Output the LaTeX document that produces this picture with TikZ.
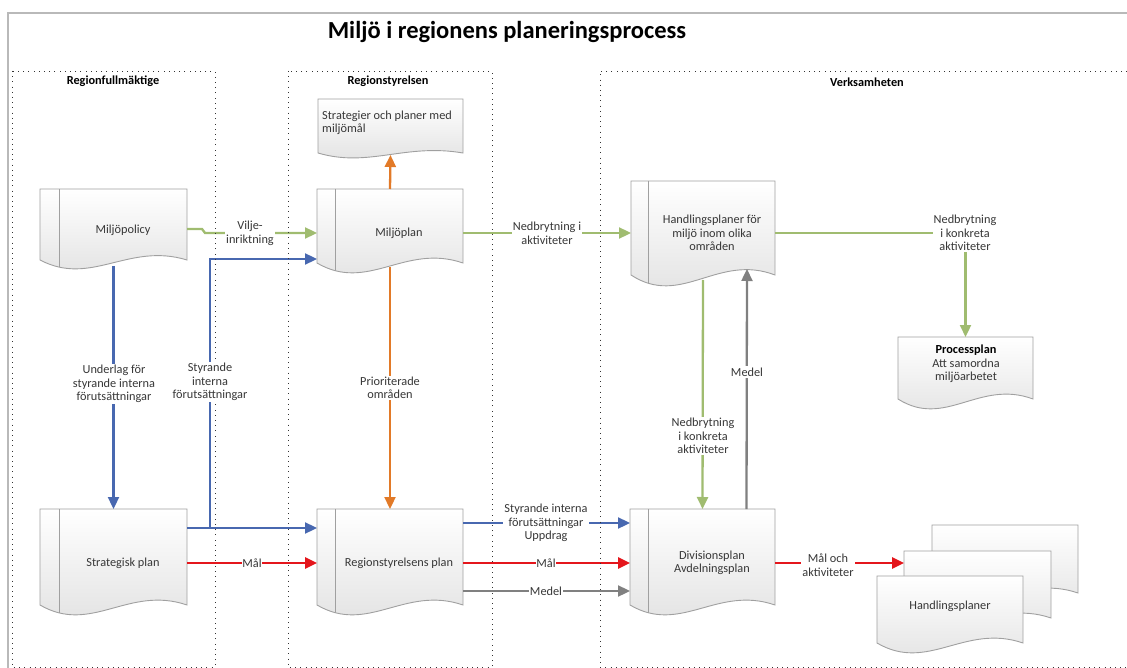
\documentclass[tikz,border=0pt]{standalone}
\usepackage{fontspec}
\setmainfont{Carlito}
\usetikzlibrary{arrows.meta}
\definecolor{grn}{RGB}{160,188,112}
\definecolor{blu}{RGB}{72,104,176}
\definecolor{org}{RGB}{226,122,40}
\definecolor{rd}{RGB}{228,22,28}
\definecolor{gry}{RGB}{128,128,128}
\definecolor{txt}{RGB}{55,55,55}
\definecolor{docedge}{RGB}{160,160,160}
\definecolor{docbot}{RGB}{224,224,224}
\definecolor{framec}{RGB}{185,185,185}
\tikzset{
  lane/.style={draw=black!80, line width=0.9pt, dash pattern=on 0.9pt off 4.3pt},
  conn/.style={line width=2.3pt, -{Triangle[length=12pt,width=11pt]}},
  lbl/.style={fill=white, inner sep=1.2pt, align=center, font=\fontsize{12.3}{13.5}\selectfont, text=txt},
  boxtxt/.style={align=center, inner sep=0pt, font=\fontsize{12.3}{13.5}\selectfont, text=txt},
  docrect/.style={inner sep=0pt, outer sep=0pt, draw=none},
  lanelbl/.style={font=\fontsize{12.3}{14}\selectfont\bfseries, inner sep=0pt},
}
% document shape: name, x1, y1, x2, ycorner, dip
\newcommand{\wavedoc}[6]{%
  \shade[top color=white, bottom color=docbot, draw=docedge, line width=0.9pt]
    (#2,#3) -- (#4,#3) -- (#4,#5) .. controls ({#2+0.6*(#4-#2)},{#5-2*#6}) and ({#2+0.35*(#4-#2)},{#5+3*#6}) .. (#2,#5) -- cycle;
  \node[docrect, minimum width={#4-#2}, minimum height={#5-#3}] (#1) at ({(#2+#4)/2},{(#3+#5)/2}) {};
}
% same with left stripe at x = #7
\newcommand{\wavedocS}[7]{%
  \wavedoc{#1}{#2}{#3}{#4}{#5}{#6}
  \begin{scope}
    \clip (#2,#3) -- (#4,#3) -- (#4,#5) .. controls ({#2+0.6*(#4-#2)},{#5-2*#6}) and ({#2+0.35*(#4-#2)},{#5+3*#6}) .. (#2,#5) -- cycle;
    \draw[docedge, line width=0.9pt] (#7,#3) -- (#7,{#5+4*#6});
  \end{scope}
}
\begin{document}
\begin{tikzpicture}[x=1pt, y=-1pt]
\useasboundingbox (0,0) rectangle (1127,668);
% frame
\draw[framec, line width=1.6pt] (8,668) -- (8,13) -- (1127,13);
% title
\node[font=\fontsize{24.5}{28}\selectfont\bfseries, inner sep=0pt] (title) at (507,32) {Miljö i regionens planeringsprocess};

% documents
\wavedocS{policy}{40}{189}{187}{260}{9}{59}
\wavedoc{strat}{318}{99}{463}{153}{5}
\wavedocS{mplan}{317}{189}{463}{263}{10}{335}
\wavedocS{hand}{631}{181}{775}{275}{11}{648}
\wavedoc{proc}{898}{337}{1033}{399}{10}
\wavedocS{splan}{40}{509}{187}{605}{10}{59}
\wavedocS{rplan}{317}{509}{463}{605}{10}{335}
\wavedocS{div}{630}{509}{775}{605}{10}{648}
\wavedoc{hp1}{932}{525}{1078}{593}{10}
\wavedoc{hp2}{904}{551}{1051}{618}{10}
\wavedoc{hp3}{877}{576}{1023}{643}{10}

% texts in documents
\node[boxtxt] (policyT) at (123,230) {Miljöpolicy};
\node[boxtxt, align=left, anchor=west] (stratT) at (322,123) {Strategier och planer med\\miljömål};
\node[boxtxt] (mplanT) at (399,233) {Miljöplan};
\node[boxtxt] (handT) at (712,233) {Handlingsplaner för\\miljö inom olika\\områden};
\node[boxtxt] (procT) at (966,364) {\textcolor{black}{\bfseries Processplan}\\Att samordna\\miljöarbetet};
\node[boxtxt] (splanT) at (123,563) {Strategisk plan};
\node[boxtxt] (rplanT) at (399,563) {Regionstyrelsens plan};
\node[boxtxt] (divT) at (712,563) {Divisionsplan\\Avdelningsplan};
\node[boxtxt] (hpT) at (950,606) {Handlingsplaner};

% connectors
\draw[grn, conn] ([yshift=-4.5pt]policy.east) -- ++(15,0) -- ++(3,4) -- ([yshift=-7pt]mplan.west);
\draw[blu, conn] ([yshift=-6pt]policy.south) -- (splan.north);
\draw[blu, conn] ([yshift=29pt]splan.east) -- ([yshift=29pt]rplan.west);
\draw[blu, conn] ([yshift=29pt]splan.east) -- ++(23,0) |- ([yshift=-33pt]mplan.west);
\draw[rd, conn, line width=2.7pt] ([yshift=-6pt]splan.east) -- ([yshift=-6pt]rplan.west);
\draw[org, conn] (mplan.north) -- ([yshift=-2pt]strat.south);
\draw[org, conn] ([yshift=-4pt]mplan.south) -- (rplan.north);
\draw[grn, conn] ([yshift=-7pt]mplan.east) -- ([yshift=-5pt]hand.west);
\draw[grn, conn] ([yshift=-5pt]hand.east) -| (proc.north);
\draw[grn, conn] ([yshift=-5pt]hand.south) -- (div.north);
\draw[gry, conn] ([xshift=44pt]div.north) -- ([xshift=44pt,yshift=6pt]hand.south);
\draw[blu, conn] ([yshift=34pt]rplan.east) -- ([yshift=34pt]div.west);
\draw[rd, conn, line width=2.7pt] ([yshift=-6pt]rplan.east) -- ([yshift=-6pt]div.west);
\draw[gry, conn] ([yshift=-34pt]rplan.east) -- ([yshift=-34pt]div.west);
\draw[rd, conn, line width=2.7pt] ([yshift=-6pt]div.east) -- ([yshift=21.5pt]hp2.west);

% swimlanes
\draw[lane] (12,71) rectangle (215,667);
\draw[lane] (288,71) rectangle (492,667);
\draw[lane] (1127,71) -- (600,71) -- (600,667) -- (1127,667);
\node[lanelbl] (lane1) at (113,81) {Regionfullmäktige};
\node[lanelbl] (lane2) at (388,81) {Regionstyrelsen};
\node[lanelbl] (lane3) at (867,82) {Verksamheten};

% connector labels
\node[lbl] (lVilje) at (250,233.5) {Vilje-\\inriktning};
\node[lbl] (lUnder) at (114,384) {Underlag för\\styrande interna\\förutsättningar};
\node[lbl] (lStyr) at (210,382) {Styrande\\interna\\förutsättningar};
\node[lbl] (lPrio) at (390,388) {Prioriterade\\områden};
\node[lbl] (lNed1) at (547,233.5) {Nedbrytning i\\aktiviteter};
\node[lbl] (lNed2) at (965,233) {Nedbrytning\\i konkreta\\aktiviteter};
\node[lbl] (lNed3) at (703,436) {Nedbrytning\\i konkreta\\aktiviteter};
\node[lbl] (lMedel1) at (747,372) {Medel};
\node[lbl] (lStyr2) at (546,523) {Styrande interna\\förutsättningar\\Uppdrag};
\node[lbl, inner sep=0.8pt] (lMal1) at (252,563) {Mål};
\node[lbl, inner sep=0.8pt] (lMal2) at (546,563) {Mål};
\node[lbl, inner sep=0.8pt] (lMedel2) at (546,591) {Medel};
\node[lbl] (lMalAkt) at (828,565) {Mål och\\aktiviteter};
\end{tikzpicture}
\end{document}
